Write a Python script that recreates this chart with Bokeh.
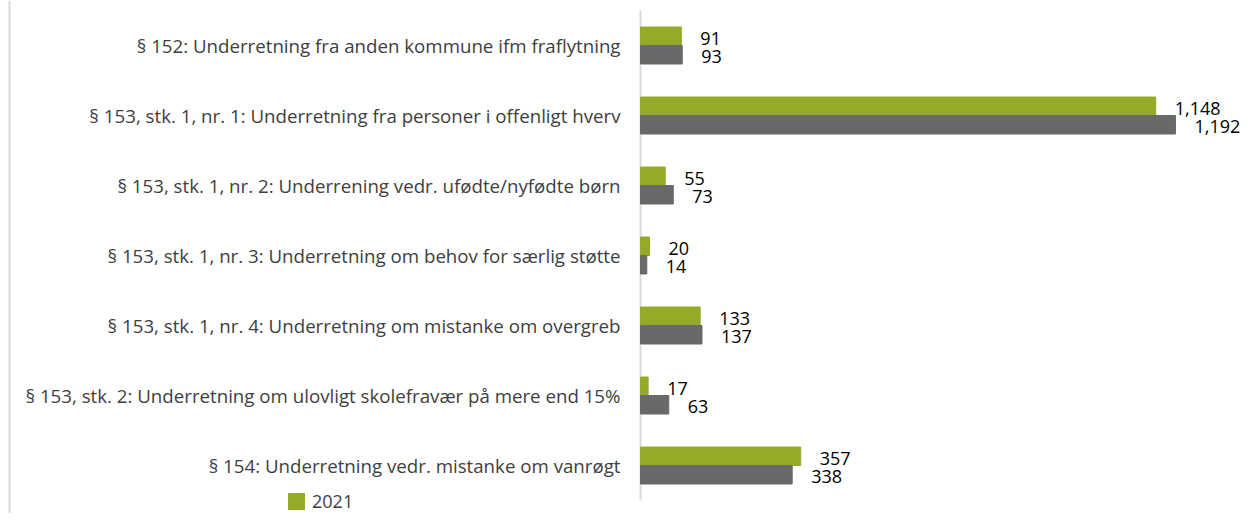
from bokeh.plotting import figure
from bokeh.models import Range1d, Legend, LegendItem, ColumnDataSource, Span
from bokeh.core.properties import value
from bokeh.embed import file_html
from bokeh.resources import INLINE

categories = [
    "§ 152: Underretning fra anden kommune ifm fraflytning",
    "§ 153, stk. 1, nr. 1: Underretning fra personer i offenligt hverv",
    "§ 153, stk. 1, nr. 2: Underrening vedr. ufødte/nyfødte børn",
    "§ 153, stk. 1, nr. 3: Underretning om behov for særlig støtte",
    "§ 153, stk. 1, nr. 4: Underretning om mistanke om overgreb",
    "§ 153, stk. 2: Underretning om ulovligt skolefravær på mere end 15%",
    "§ 154: Underretning vedr. mistanke om vanrøgt",
]
values_2021 = [91, 1148, 55, 20, 133, 17, 357]
values_2022 = [93, 1192, 73, 14, 137, 63, 338]
series_names = ["2021", "2022"]

GREEN = "#95aa28"
GRAY = "#696969"
FONT = "Open Sans"

W, H = 1245, 513
ZERO_PX = 640          # pixel position of the value axis (x = 0)
UNIT_PX = 0.4488       # pixels per count
BAND_PX = 70           # pixels per category band
FIRST_CENTER_PX = 45   # pixel of the first category centre

n = len(categories)
ypos = [n - 1 - i for i in range(n)]
bh = 18.5 / BAND_PX

src = ColumnDataSource(dict(
    cat=categories,
    y=ypos,
    y1=[y + bh / 2 for y in ypos],
    y2=[y - bh / 2 for y in ypos],
    v1=values_2021,
    v2=values_2022,
    l1=[f"{v:,}" for v in values_2021],
    l2=[f"{v:,}" for v in values_2022],
))

x_start = -ZERO_PX / UNIT_PX
x_end = (W - ZERO_PX) / UNIT_PX
y_top = (n - 1) + FIRST_CENTER_PX / BAND_PX
y_bot = (n - 1) - (H - FIRST_CENTER_PX) / BAND_PX

p = figure(
    width=W, height=H,
    x_range=Range1d(x_start, x_end), y_range=Range1d(y_bot, y_top),
    x_axis_location=None, y_axis_location=None,
    output_backend="svg", toolbar_location=None,
    min_border=0, min_border_left=0, min_border_right=0,
    min_border_top=0, min_border_bottom=0,
)
p.outline_line_color = None
p.grid.grid_line_color = None
p.background_fill_color = "white"
p.border_fill_color = "white"

# outer left border of the chart area
p.add_layout(Span(location=x_start + 9 / UNIT_PX, dimension="height",
                  line_color="#d9d9d9", line_width=2))

# value axis line (x = 0), spanning the category bands
p.segment(x0=[0], y0=[-0.5], x1=[0], y1=[n - 0.5],
          line_color="#d9d9d9", line_width=2)

r1 = p.hbar(y="y1", right="v1", left=0, height=bh, color=GREEN, source=src)
r2 = p.hbar(y="y2", right="v2", left=0, height=bh, color=GRAY, source=src)

p.text(x="v1", y="y1", text="l1", source=src,
       x_offset=19, y_offset=2, text_baseline="middle", text_align="left",
       text_font=value(FONT), text_font_size="18px", text_color="black")
p.text(x="v2", y="y2", text="l2", source=src,
       x_offset=19, y_offset=2, text_baseline="middle", text_align="left",
       text_font=value(FONT), text_font_size="18px", text_color="black")

# category labels
p.text(x=0, y="y", text="cat", source=src,
       x_offset=-20, text_baseline="middle", text_align="right",
       text_font=value(FONT), text_font_size="18.7px", text_color="#404040")

legend = Legend(items=[LegendItem(label=series_names[0], renderers=[r1])],
                location=(286, 0), orientation="horizontal",
                border_line_color=None, background_fill_alpha=0,
                padding=0, margin=0, glyph_width=20, glyph_height=20,
                label_height=20, label_standoff=6, label_text_font=FONT,
                label_text_font_size="18px", label_text_color="#404040")
p.add_layout(legend, "center")

open("out.html", "w").write(file_html(p, INLINE))
